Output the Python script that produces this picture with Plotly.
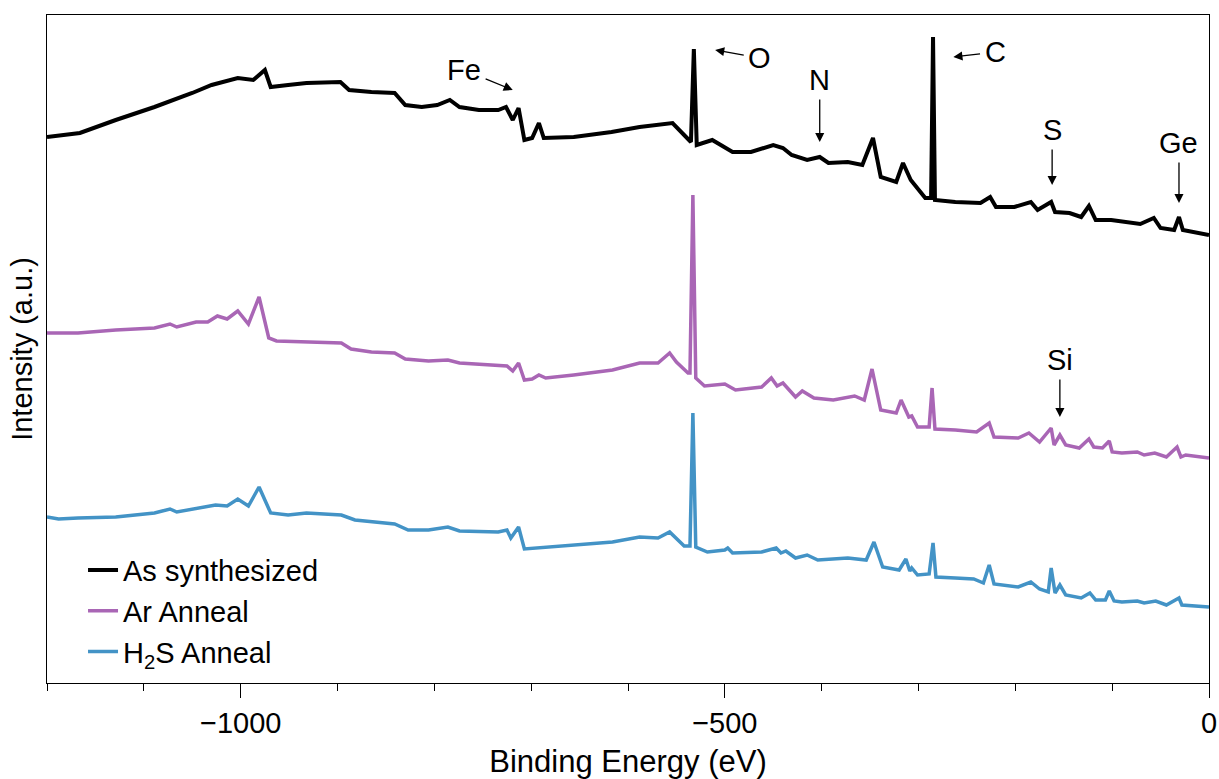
import plotly.graph_objects as go

# Binding energy (eV) and intensity (a.u., vertically offset traces)
as_syn_be = [-1200, -1166, -1129, -1089, -1050, -1030, -1003, -987, -975, -969, -951, -932,
             -897, -888, -865, -841, -830, -813, -797, -784, -774, -754, -734, -726, -719,
             -713, -707, -699, -692, -687, -656, -617, -588, -554, -535, -532, -529, -513,
             -492, -473, -450, -440, -431, -415, -402, -393, -373, -358, -347, -339, -323,
             -316, -308, -293, -287, -285, -283, -262, -236, -226, -220, -201, -184, -177,
             -163, -159, -144, -132, -124, -117, -101, -71, -57, -50, -36, -31, -27, 0]
as_syn_int = [546, 550, 563, 576, 590, 598, 605, 603, 613, 596, 598, 600,
              601, 593, 591, 590, 578, 576, 578, 583, 576, 573, 573, 576, 563,
              575, 543, 545, 560, 545, 546, 551, 556, 560, 541, 634, 538, 543,
              531, 531, 538, 535, 528, 523, 526, 520, 521, 518, 545, 506, 501,
              520, 503, 485, 485, 646, 483, 481, 480, 486, 476, 476, 481, 473,
              481, 471, 470, 466, 477, 463, 463, 459, 465, 455, 453, 466, 453, 448]

ar_be = [-1200, -1168, -1129, -1089, -1073, -1066, -1046, -1034, -1024, -1014, -1003, -992,
         -981, -971, -963, -932, -896, -886, -865, -841, -830, -806, -786, -774, -734,
         -725, -719, -713, -707, -699, -692, -685, -656, -616, -588, -569, -557, -550,
         -538, -536, -533, -530, -521, -500, -489, -462, -452, -446, -440, -427, -420,
         -408, -388, -366, -356, -348, -339, -323, -318, -310, -307, -301, -289, -286,
         -283, -262, -240, -227, -222, -197, -186, -175, -163, -160, -154, -148, -134,
         -124, -119, -110, -103, -100, -90, -74, -67, -56, -44, -33, -29, -24, 0]
ar_int = [350, 350, 353, 355, 359, 356, 361, 361, 367, 364, 372, 359,
          386, 345, 342, 341, 340, 334, 331, 330, 324, 322, 323, 320, 318,
          317, 312, 320, 303, 304, 308, 305, 308, 313, 320, 320, 330, 321,
          310, 310, 488, 305, 297, 299, 293, 296, 305, 297, 300, 286, 292,
          285, 283, 287, 283, 314, 273, 270, 283, 266, 267, 256, 256, 295,
          254, 253, 251, 260, 246, 245, 250, 241, 255, 238, 248, 238, 235,
          244, 236, 235, 242, 231, 230, 231, 228, 230, 226, 236, 226, 228, 225]

h2s_be = [-1200, -1188, -1168, -1129, -1089, -1073, -1066, -1042, -1026, -1014, -1003, -992,
          -981, -969, -951, -932, -896, -882, -865, -841, -827, -806, -786, -774, -734,
          -725, -721, -713, -707, -695, -656, -616, -588, -569, -557, -542, -536, -533,
          -530, -518, -500, -497, -492, -462, -447, -442, -437, -427, -415, -404, -373,
          -354, -346, -337, -320, -313, -309, -307, -301, -289, -285, -282, -262, -243,
          -233, -227, -222, -197, -184, -175, -166, -163, -159, -154, -148, -132, -123,
          -117, -107, -103, -98, -90, -74, -67, -55, -44, -31, -28, 0]
h2s_int = [166, 164, 165, 166, 170, 174, 171, 175, 178, 177, 184, 177,
           196, 170, 168, 170, 168, 163, 161, 159, 153, 153, 156, 152, 151,
           153, 145, 156, 134, 135, 138, 141, 146, 145, 151, 137, 137, 270,
           136, 131, 133, 135, 130, 131, 135, 130, 132, 125, 128, 123, 125,
           123, 141, 116, 113, 124, 112, 115, 108, 109, 140, 106, 105, 104,
           100, 118, 99, 96, 101, 94, 91, 115, 90, 98, 88, 85, 90,
           83, 83, 92, 82, 81, 82, 80, 82, 78, 85, 78, 76]

series_names = ["As synthesized", "Ar Anneal", "H<sub>2</sub>S Anneal"]
series_colors = ["#000000", "#a966b5", "#4393c6"]
series_widths = [4, 3.5, 3.5]

# element labels (label position) and the peak each arrow points to
label_text = ["Fe", "O", "N", "C", "S", "Ge", "Si"]
label_x = [-769, -464, -402, -221, -162, -31, -154]
label_y = [613, 625, 603, 631, 553, 540, 323]
head_x = [-719, -510, -402, -264, -162, -31, -154]
head_y = [593, 633, 541, 626, 498, 480, 266]
arrow_gap = [3, 3, 2, 3, 2, 2, 2]

FONT = "Liberation Sans, Arial, Helvetica, sans-serif"

fig = go.Figure()
for be, inten, name, col, w in zip([as_syn_be, ar_be, h2s_be],
                                   [as_syn_int, ar_int, h2s_int],
                                   series_names, series_colors, series_widths):
    fig.add_trace(go.Scatter(x=be, y=inten, mode="lines", name=name,
                             line=dict(color=col, width=w)))

annotations = []
for t, lx, ly, hx, hy, g in zip(label_text, label_x, label_y, head_x, head_y, arrow_gap):
    annotations.append(dict(x=hx, y=hy, xref="x", yref="y", ax=lx, ay=ly,
                            axref="x", ayref="y", text=t, showarrow=True,
                            arrowhead=2, arrowsize=1.4, arrowwidth=1.3,
                            arrowcolor="black", borderpad=1, startstandoff=g,
                            font=dict(size=29, color="black", family=FONT)))

fig.update_layout(
    width=1219, height=779,
    margin=dict(l=47, r=10, t=15, b=96),
    paper_bgcolor="white", plot_bgcolor="white",
    font=dict(family=FONT, size=29, color="black"),
    showlegend=True,
    legend=dict(x=0.031, y=0.207, xanchor="left", yanchor="top",
                bgcolor="rgba(0,0,0,0)", font=dict(size=29, family=FONT),
                tracegroupgap=0, itemwidth=30),
    annotations=annotations,
    xaxis=dict(range=[-1200, 0], showgrid=False, zeroline=False, automargin=False,
               showline=True, linecolor="black", linewidth=1, mirror=True,
               tickmode="array", tickvals=[-1000, -500, 0], ticks="outside",
               ticklen=14, tickwidth=1, tickcolor="black",
               tickfont=dict(size=29, family=FONT),
               minor=dict(tickmode="linear", dtick=100, tick0=0, ticks="outside",
                          ticklen=7, tickwidth=1, tickcolor="black", showgrid=False),
               title=dict(text="Binding Energy (eV)", font=dict(size=31, family=FONT), standoff=12)),
    yaxis=dict(range=[0, 668], showgrid=False, zeroline=False, automargin=False,
               showline=True, linecolor="black", linewidth=1, mirror=True,
               showticklabels=False, ticks="",
               title=dict(text="Intensity (a.u.)", font=dict(size=29, family=FONT), standoff=4)),
)

fig.write_html("out.html")
